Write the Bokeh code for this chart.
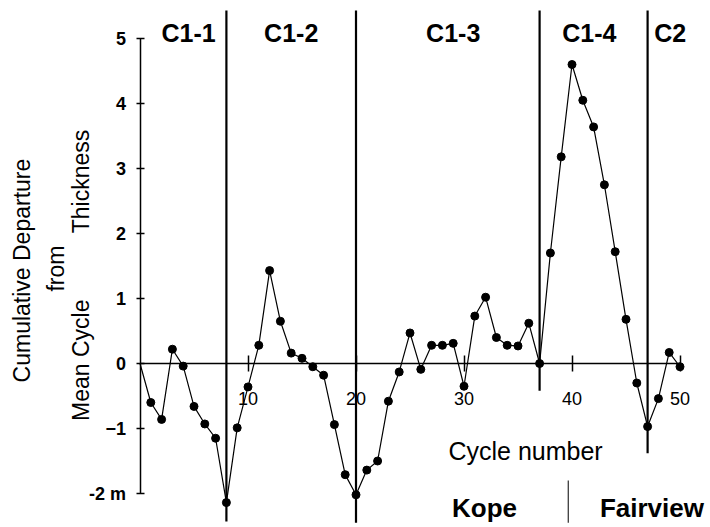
import math
from bokeh.plotting import figure
from bokeh.models import Range1d, LinearAxis, FixedTicker
from bokeh.core.properties import value
from bokeh.embed import file_html
from bokeh.resources import INLINE

# ---- data ----
cycles = list(range(0, 51))
departure = [0.0, -0.60, -0.86, 0.22, -0.04, -0.66, -0.93, -1.15, -2.14, -0.99,
             -0.36, 0.28, 1.43, 0.65, 0.16, 0.08, -0.05, -0.18, -0.94, -1.71,
             -2.02, -1.64, -1.50, -0.58, -0.13, 0.47, -0.09, 0.28, 0.28, 0.31,
             -0.35, 0.73, 1.02, 0.40, 0.28, 0.27, 0.62, 0.0, 1.70, 3.18,
             4.60, 4.05, 3.64, 2.75, 1.72, 0.68, -0.30, -0.97, -0.54, 0.17,
             -0.05]
boundary_cycles = [8, 20, 37, 47]
boundary_bottoms = [-2.43, -2.45, -0.42, -1.38]
unit_names = ["C1-1", "C1-2", "C1-3", "C1-4", "C2"]
unit_centers = [4.5, 14.0, 29.0, 41.6, 49.1]
x_ticks = [10, 20, 30, 40, 50]
y_ticks = [-2, -1, 0, 1, 2, 3, 4, 5]
formations = ["Kope", "Fairview"]
formation_centers = [31.9, 47.4]
formation_divider = 39.65

FONT = "Liberation Sans"

p = figure(width=710, height=527, output_backend="svg", toolbar_location=None,
           x_range=Range1d(-12.917, 52.824), y_range=Range1d(-2.523, 5.585),
           min_border=0, x_axis_type=None, y_axis_type=None)
p.outline_line_color = None
p.xgrid.visible = False
p.ygrid.visible = False
p.background_fill_color = "white"
p.border_fill_color = "white"

# axes crossing at origin
xa = LinearAxis(fixed_location=0, bounds=(0, 50), ticker=FixedTicker(ticks=x_ticks))
xa.axis_line_width = 1.5
xa.major_tick_in = 8
xa.major_tick_out = 8
xa.major_tick_line_width = 1.5
xa.minor_tick_line_color = None
xa.major_label_standoff = 20
xa.major_label_text_font = FONT
xa.major_label_text_font_size = "18px"
xa.major_label_text_color = "black"
p.add_layout(xa, "below")

ya = LinearAxis(fixed_location=0, bounds=(-2, 5), ticker=FixedTicker(ticks=y_ticks))
ya.axis_line_width = 1.5
ya.major_tick_in = 4
ya.major_tick_out = 4
ya.major_tick_line_width = 1.5
ya.minor_tick_line_color = None
ya.major_label_standoff = 10
ya.major_label_text_font = FONT
ya.major_label_text_font_size = "18px"
ya.major_label_text_font_style = "bold"
ya.major_label_text_color = "black"
ya.major_label_overrides = {-2: "-2 m"}
p.add_layout(ya, "left")

# unit boundaries
p.segment(x0=boundary_cycles, y0=[5.43] * len(boundary_cycles),
          x1=boundary_cycles, y1=boundary_bottoms, line_color="black", line_width=2.2)

# data series
p.line(cycles, departure, line_color="black", line_width=1.2)
p.scatter(cycles[1:], departure[1:], size=8, fill_color="black", line_color="black")

# unit labels
p.text(x=unit_centers, y=[5.09] * len(unit_centers), text=unit_names,
       text_font=value(FONT), text_font_size="25px", text_font_style="bold",
       text_align="center", text_baseline="middle", text_color="black")

# x title
p.text(x=[35.7], y=[-1.34], text=["Cycle number"], text_font=value(FONT),
       text_font_size="25px", text_align="center", text_baseline="middle",
       text_color="black")

# formation labels
p.text(x=formation_centers, y=[-2.23, -2.23], text=formations, text_font=value(FONT),
       text_font_size="26px", text_font_style="bold", text_align="center",
       text_baseline="middle", text_color="black")
p.segment(x0=[formation_divider], y0=[-1.8], x1=[formation_divider], y1=[-2.45],
          line_color="black", line_width=1)

# y title (rotated)
p.text(x=[-10.88, -7.82, -5.5, -5.5], y=[1.43, 1.46, 0.05, 2.8],
       text=["Cumulative Departure", "from", "Mean Cycle", "Thickness"],
       angle=math.pi / 2, text_font=value(FONT), text_font_size="23px",
       text_align="center", text_baseline="middle", text_color="black")

open("out.html", "w").write(file_html(p, INLINE))
